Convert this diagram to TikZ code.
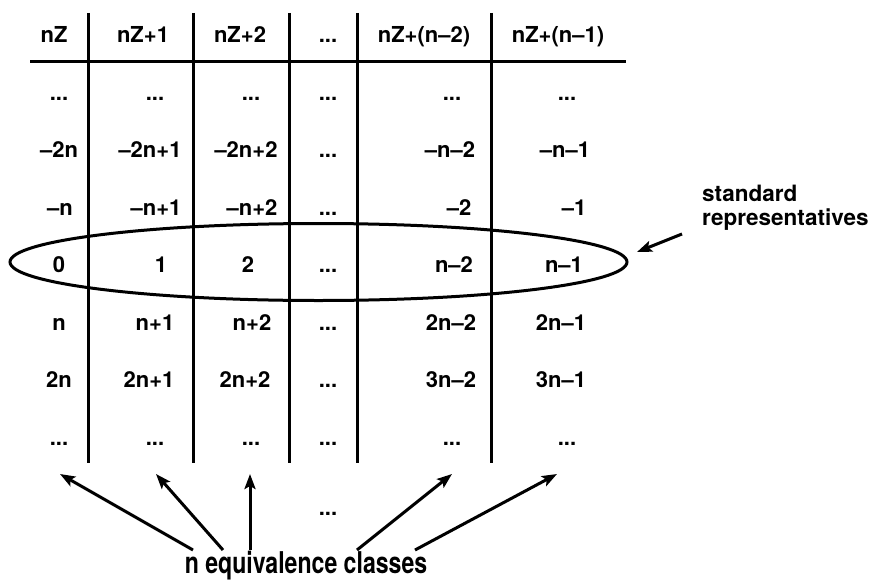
\documentclass[tikz,border=0pt]{standalone}
\usepackage{fontspec}
\usepackage{graphicx}
\setmainfont{TeX Gyre Heros}
\usetikzlibrary{arrows.meta}
\begin{document}
\begin{tikzpicture}[x=1pt,y=-1pt,
  cell/.style={anchor=base, inner sep=0pt, font=\bfseries\fontsize{22}{26}\selectfont},
  note/.style={anchor=base west, inner sep=0pt, font=\bfseries\fontsize{22.5}{25}\selectfont, align=left},
  rule/.style={line width=3pt},
  pointer/.style={line width=3pt, -{Stealth[length=15pt,width=11pt,inset=3pt]}},
  ]
\useasboundingbox (0,0) rectangle (877,586);

% table rules
\draw[rule] (30,61) -- (626,61);
\foreach \x in {88,193,289,357,491}
  \draw[rule] (\x,13) -- (\x,463);

% column headers
\node[cell] (h1) at (54,43)  {nZ};
\node[cell] (h2) at (143,43) {nZ+1};
\node[cell] (h3) at (240,43) {nZ+2};
\node[cell] (h4) at (328,43) {...};
\node[cell] (h5) at (424,43) {nZ+(n–2)};
\node[cell] (h6) at (558,43) {nZ+(n–1)};

% row 1
\node[cell] (a1) at (59,100)  {...};
\node[cell] (a2) at (155,100) {...};
\node[cell] (a3) at (251,100) {...};
\node[cell] (a4) at (328,100) {...};
\node[cell] (a5) at (452,100) {...};
\node[cell] (a6) at (567,100) {...};
% row 2
\node[cell] (b1) at (59,157.5)  {–2n};
\node[cell] (b2) at (150,157.5) {–2n+1};
\node[cell] (b3) at (246,157.5) {–2n+2};
\node[cell] (b4) at (328,157.5) {...};
\node[cell] (b5) at (450,157.5) {–n–2};
\node[cell] (b6) at (565,157.5) {–n–1};
% row 3
\node[cell] (c1) at (60,215)  {–n};
\node[cell] (c2) at (156,215) {–n+1};
\node[cell] (c3) at (252,215) {–n+2};
\node[cell] (c4) at (328,215) {...};
\node[cell] (c5) at (459,215) {–2};
\node[cell] (c6) at (574,215) {–1};
% row 4: standard representatives
\node[cell] (d1) at (59,272.5)  {0};
\node[cell] (d2) at (161,272.5) {1};
\node[cell] (d3) at (248,272.5) {2};
\node[cell] (d4) at (328,272.5) {...};
\node[cell] (d5) at (454,272.5) {n–2};
\node[cell] (d6) at (564,272.5) {n–1};
% row 5
\node[cell] (e1) at (59,330)  {n};
\node[cell] (e2) at (155,330) {n+1};
\node[cell] (e3) at (252,330) {n+2};
\node[cell] (e4) at (328,330) {...};
\node[cell] (e5) at (451,330) {2n–2};
\node[cell] (e6) at (561,330) {2n–1};
% row 6
\node[cell] (f1) at (59,387.5)  {2n};
\node[cell] (f2) at (149,387.5) {2n+1};
\node[cell] (f3) at (245,387.5) {2n+2};
\node[cell] (f4) at (328,387.5) {...};
\node[cell] (f5) at (451,387.5) {3n–2};
\node[cell] (f6) at (561,387.5) {3n–1};
% row 7
\node[cell] (g1) at (59,445)  {...};
\node[cell] (g2) at (155,445) {...};
\node[cell] (g3) at (251,445) {...};
\node[cell] (g4) at (328,445) {...};
\node[cell] (g5) at (452,445) {...};
\node[cell] (g6) at (567,445) {...};

% ring round the standard representatives
\draw[rule] (318.5,262) ellipse [x radius=308.5pt, y radius=38.5pt];

% label for the ring
\node[note] (std) at (702,225) {standard\\[-1pt]representatives};
\coordinate (stdTail) at (682,234);
\coordinate (stdTip)  at (637,252);
\draw[pointer] (stdTail) -- (stdTip);

% equivalence classes label and its arrows
\node[anchor=base, inner sep=0pt, font=\bfseries\fontsize{30}{36}\selectfont]
  (cls) at (306,573) {\scalebox{0.77}[1]{n equivalence classes}};
\node[cell] (mid) at (328,515) {...};

\coordinate (t1) at (193,550); \coordinate (p1) at (60,474);
\coordinate (t2) at (223,550); \coordinate (p2) at (156,474);
\coordinate (t3) at (250,550); \coordinate (p3) at (250,474);
\coordinate (t4) at (357,550); \coordinate (p4) at (452,474);
\coordinate (t5) at (415,550); \coordinate (p5) at (557,474);
\foreach \i in {1,...,5}
  \draw[pointer] (t\i) -- (p\i);
\end{tikzpicture}
\end{document}
